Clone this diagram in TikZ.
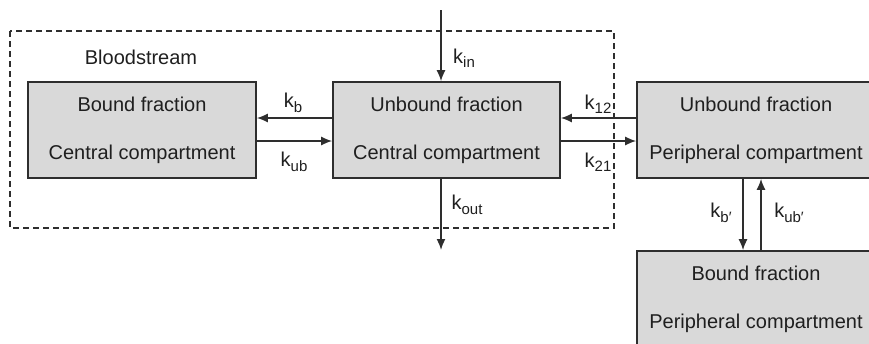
\documentclass[tikz,border=0pt]{standalone}
\usepackage{fontspec}
\setmainfont{Liberation Sans}
\usetikzlibrary{arrows.meta, positioning}
\definecolor{boxgray}{HTML}{D9D9D9}
\definecolor{linegray}{HTML}{2E2E2E}
\newcommand{\krate}[1]{k\raisebox{-0.22em}{\fontsize{15}{15}\selectfont #1}}

\begin{document}
\begin{tikzpicture}[x=1pt, y=-1pt,
    box/.style={draw=linegray, line width=1.6pt, fill=boxgray, inner sep=0pt, minimum height=96pt, align=center, text=black!88, font=\fontsize{20}{48}\selectfont},
    flow/.style={draw=linegray, line width=1.6pt, -{Latex[length=11pt,width=9pt]}},
    ratelabel/.style={text=black!88, font=\fontsize{20}{24}\selectfont, inner sep=0pt}]
  \useasboundingbox (0,0) rectangle (869,343);
  % Bloodstream
  \draw[linegray, line width=1.4pt, dash pattern=on 6pt off 4pt] (10,31) rectangle (614,228);
  \node[ratelabel] (blood) at (141,57) {Bloodstream};
  % Compartments
  \node[box, minimum width=228pt] (bcent) at (142,130) {Bound fraction\\Central compartment};
  \node[box, minimum width=227pt] (ucent) at (446.5,130) {Unbound fraction\\Central compartment};
  \node[box, minimum width=238pt] (uper) at (756,130) {Unbound fraction\\Peripheral compartment};
  \node[box, minimum width=238pt] (bper) at (756,299) {Bound fraction\\Peripheral compartment};
  % Input and output
  \coordinate (in) at (441,10);
  \coordinate (out) at (441,250);
  \draw[flow] (in) -- (in |- ucent.north);
  \draw[flow] (in |- ucent.south) -- (out);
  \node[ratelabel] (kin) at (464,58) {\krate{in}};
  \node[ratelabel] (kout) at (467,205) {\krate{out}};
  % Binding in the central compartment
  \draw[flow] ([yshift=12pt]ucent.west) -- ([yshift=12pt]bcent.east);
  \draw[flow] ([yshift=-11pt]bcent.east) -- ([yshift=-11pt]ucent.west);
  \node[ratelabel] (kb) at (293,103) {\krate{b}};
  \node[ratelabel] (kub) at (294,162) {\krate{ub}};
  % Distribution
  \draw[flow] ([yshift=12pt]uper.west) -- ([yshift=12pt]ucent.east);
  \draw[flow] ([yshift=-11pt]ucent.east) -- ([yshift=-11pt]uper.west);
  \node[ratelabel] (k12) at (598,104) {\krate{12}};
  \node[ratelabel] (k21) at (598,162) {\krate{21}};
  % Binding in the peripheral compartment
  \draw[flow] ([xshift=-13pt]uper.south) -- ([xshift=-13pt]bper.north);
  \draw[flow] ([xshift=5pt]bper.north) -- ([xshift=5pt]uper.south);
  \node[ratelabel] (kbp) at (721,213) {\krate{b′}};
  \node[ratelabel] (kubp) at (789,213) {\krate{ub′}};
\end{tikzpicture}
\end{document}
